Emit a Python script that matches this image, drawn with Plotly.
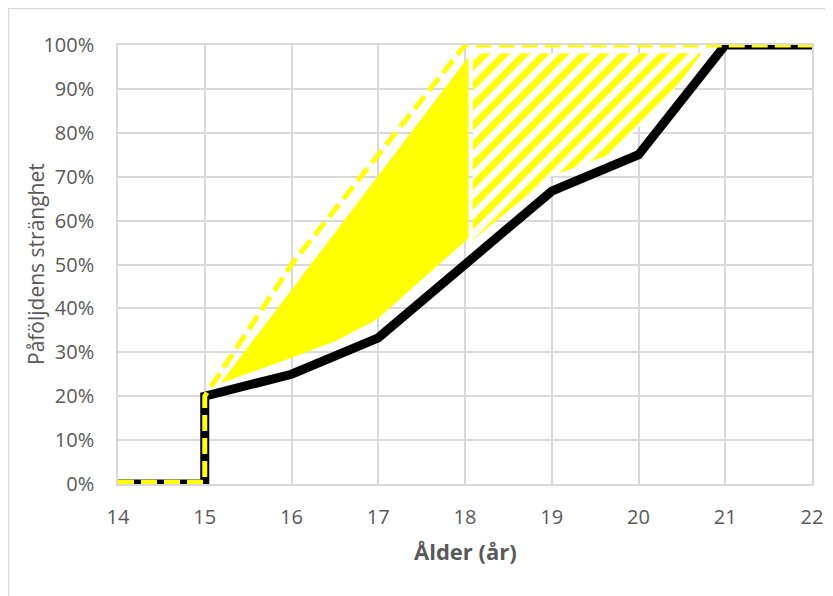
import plotly.graph_objects as go

# Data
age_black = [14, 15, 15, 16, 17, 18, 19, 20, 21, 22]
strict_black = [0.0, 0.0, 0.20, 0.25, 0.333, 0.50, 0.667, 0.75, 1.0, 1.0]

age_yellow = [14, 15, 15, 16, 17, 18, 22]
strict_yellow = [0.004, 0.004, 0.20, 0.50, 0.75, 1.0, 1.0]

# solid yellow area (15-18)
solid_x = [15.18, 18.04, 18.04, 16.98, 16.5, 15.98, 15.18]
solid_y = [0.229, 0.973, 0.56, 0.374, 0.325, 0.286, 0.229]

# hatched yellow area (18-21)
hatch_x = [18.09, 18.98, 19.70, 20.32, 20.73, 18.09, 18.09]
hatch_y = [0.556, 0.70, 0.753, 0.875, 0.981, 0.981, 0.556]

x_ticks = [14, 15, 16, 17, 18, 19, 20, 21, 22]
x_title = "Ålder (år)"
y_title = "Påföljdens stränghet"

GRID = "#d9d9d9"
TXT = "#595959"
FONT = "Open Sans"

fig = go.Figure()

fig.add_trace(go.Scatter(x=solid_x, y=solid_y, mode="lines", fill="toself",
                         fillcolor="#FFFF00", line=dict(width=0, color="#FFFF00"),
                         hoverinfo="skip", showlegend=False))
fig.add_trace(go.Scatter(x=hatch_x, y=hatch_y, mode="lines", fill="toself",
                         fillcolor="rgba(0,0,0,0)",
                         fillpattern=dict(shape="/", fgcolor="#FFFF00", fgopacity=1,
                                          bgcolor="white", size=14, solidity=0.5),
                         line=dict(width=0, color="rgba(0,0,0,0)"),
                         hoverinfo="skip", showlegend=False))
fig.add_trace(go.Scatter(x=age_black, y=strict_black, mode="lines",
                         line=dict(color="black", width=9, shape="linear"),
                         showlegend=False))
fig.add_trace(go.Scatter(x=age_yellow, y=strict_yellow, mode="lines",
                         line=dict(color="#FFFF00", width=5, dash="16px,7px"),
                         showlegend=False))

# page has 8px body margin -> figure sized to viewport minus margins
OFF = 8
W, H = 833 - OFF, 596 - OFF
PL, PR, PT, PB = 118, 812, 45, 484  # plot area in page pixels
ml, mr, mt, mb = PL - OFF, OFF + W - PR, PT - OFF, OFF + H - PB
pw, ph = W - ml - mr, H - mt - mb

def px_x(px):
    return (px - PL) / pw

def px_y(py):
    return (PB - py) / ph

fig.add_shape(type="rect", xref="paper", yref="paper",
              x0=px_x(8.5), x1=px_x(860),
              y0=px_y(640), y1=px_y(8.5),
              line=dict(color=GRID, width=1.5), fillcolor="rgba(0,0,0,0)", layer="below")

fig.add_annotation(text="<b>" + x_title + "</b>", xref="paper", yref="paper",
                   x=px_x(465), y=px_y(551), xanchor="center", yanchor="middle",
                   showarrow=False, font=dict(size=22, color=TXT, family=FONT))
fig.add_annotation(text=y_title, xref="paper", yref="paper", textangle=-90,
                   x=px_x(36), y=px_y(264), xanchor="center", yanchor="middle",
                   showarrow=False, font=dict(size=21, color=TXT, family=FONT))

fig.update_layout(
    width=W, height=H,
    margin=dict(l=ml, r=mr, t=mt, b=mb, autoexpand=False),
    paper_bgcolor="white", plot_bgcolor="white",
    font=dict(family=FONT, color=TXT, size=20),
)
fig.update_xaxes(range=[14, 22], tickvals=x_ticks, showgrid=True, gridcolor=GRID, gridwidth=1.5,
                 showline=True, linecolor=GRID, linewidth=1.5, mirror=True, zeroline=False,
                 ticks="outside", ticklen=14, tickcolor="rgba(0,0,0,0)", automargin=False,
                 tickfont=dict(size=20, color=TXT))
fig.update_yaxes(range=[0, 1], dtick=0.1, tickformat=".0%", showgrid=True, gridcolor=GRID,
                 gridwidth=1.5, showline=True, linecolor=GRID, linewidth=1.5, mirror=True,
                 zeroline=False, ticks="", ticklabelstandoff=18, automargin=False,
                 tickfont=dict(size=20, color=TXT))

fig.write_html("out.html")
